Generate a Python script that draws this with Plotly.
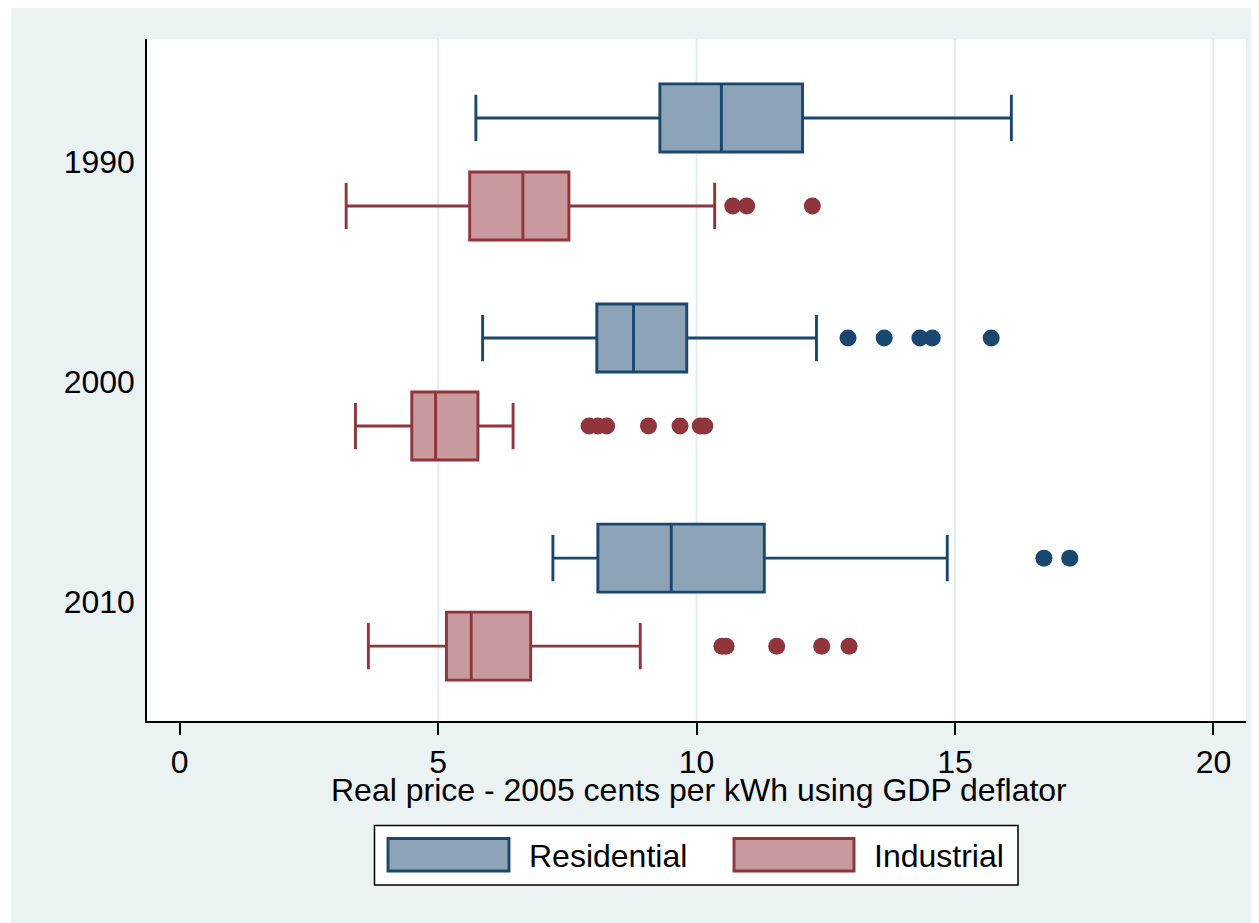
import plotly.graph_objects as go

# ---------------- data ----------------
years = ["1990", "2000", "2010"]
series_names = ["Residential", "Industrial"]

res_low = [5.73, 5.86, 7.22]
res_q1 = [9.29, 8.07, 8.09]
res_med = [10.48, 8.78, 9.51]
res_q3 = [12.05, 9.81, 11.31]
res_high = [16.09, 12.32, 14.85]
res_outliers = [[], [12.93, 13.63, 14.32, 14.56, 15.70], [16.72, 17.22]]

ind_low = [3.22, 3.40, 3.65]
ind_q1 = [5.61, 4.49, 5.16]
ind_med = [6.64, 4.95, 5.64]
ind_q3 = [7.53, 5.77, 6.79]
ind_high = [10.35, 6.45, 8.91]
ind_outliers = [[10.70, 10.97, 12.24],
                [7.92, 8.09, 8.26, 9.07, 9.68, 10.07, 10.16],
                [10.49, 10.57, 11.55, 12.42, 12.95]]

x_ticks = [0, 5, 10, 15, 20]
x_title = "Real price - 2005 cents per kWh using GDP deflator"

# ---------------- style ----------------
BG = "#EAF2F3"
RES_LINE = "#1A476F"
RES_FILL = "#8DA4B8"
IND_LINE = "#90353B"
IND_FILL = "#C89A9D"
FONT = "Liberation Sans, Arial, sans-serif"
FS = 32

OFF = 8  # page body margin of the html page
W, H = 1259 - OFF, 923 - OFF
# plot area in page pixels: x 147..1246, y 39..721
PL, PR, PT, PB = 147, 1246, 39, 721
L, R, T, B = PL - OFF, W - (PR - OFF), PT - OFF, H - (PB - OFF)
PW, PH = PR - PL, PB - PT


def px_x(p):
    return (p - PL) / PW


def px_y(p):
    return (PB - p) / PH


fig = go.Figure()

series = [
    (series_names[0], res_low, res_q1, res_med, res_q3, res_high, res_outliers, RES_LINE, RES_FILL, -0.2),
    (series_names[1], ind_low, ind_q1, ind_med, ind_q3, ind_high, ind_outliers, IND_LINE, IND_FILL, 0.2),
]

for name, lo, q1, med, q3, hi, outs, lc, fc, off in series:
    pos = [i + off for i in range(len(years))]
    fig.add_trace(go.Box(
        name=name, orientation="h", y=pos,
        lowerfence=lo, q1=q1, median=med, q3=q3, upperfence=hi,
        width=0.309, whiskerwidth=0.68,
        line=dict(color=lc, width=2.9), fillcolor=fc,
        boxpoints=False, showlegend=False, hoverinfo="skip",
    ))
    ox, oy = [], []
    for i, vals in enumerate(outs):
        for v in vals:
            ox.append(v)
            oy.append(i + off)
    fig.add_trace(go.Scatter(
        x=ox, y=oy, mode="markers",
        marker=dict(color=lc, size=17, line=dict(width=0)),
        showlegend=False, hoverinfo="skip",
    ))

shapes = []
# vertical grid lines (none at 0, as in the original)
for v in x_ticks:
    if v == 0:
        continue
    shapes.append(dict(type="line", xref="x", yref="paper", x0=v, x1=v, y0=0, y1=1,
                       line=dict(color="#E3ECEF", width=2), layer="below"))

# white strip at the left of the image
shapes.append(dict(type="rect", xref="paper", yref="paper", x0=px_x(0), x1=px_x(11),
                   y0=px_y(940), y1=px_y(0), fillcolor="white", line=dict(width=0), layer="above"))

# manual legend
shapes.append(dict(type="rect", xref="paper", yref="paper", x0=px_x(374.5), x1=px_x(1018),
                   y0=px_y(885), y1=px_y(825.5), fillcolor="white",
                   line=dict(color="black", width=1.5), layer="above"))
shapes.append(dict(type="rect", xref="paper", yref="paper", x0=px_x(388), x1=px_x(509),
                   y0=px_y(871), y1=px_y(838.5), fillcolor=RES_FILL,
                   line=dict(color=RES_LINE, width=2.9), layer="above"))
shapes.append(dict(type="rect", xref="paper", yref="paper", x0=px_x(734), x1=px_x(854),
                   y0=px_y(871), y1=px_y(838.5), fillcolor=IND_FILL,
                   line=dict(color=IND_LINE, width=2.9), layer="above"))

annotations = [
    dict(text=series_names[0], xref="paper", yref="paper", x=px_x(527), y=px_y(856),
         xanchor="left", yanchor="middle", showarrow=False, font=dict(size=FS, color="black", family=FONT)),
    dict(text=series_names[1], xref="paper", yref="paper", x=px_x(872), y=px_y(856),
         xanchor="left", yanchor="middle", showarrow=False, font=dict(size=FS, color="black", family=FONT)),
    dict(text=x_title, xref="paper", yref="paper", x=px_x(698.5), y=px_y(790),
         xanchor="center", yanchor="middle", showarrow=False, font=dict(size=FS, color="black", family=FONT)),
]

x0 = -0.633
x1 = 20.63
fig.update_layout(
    width=W, height=H,
    margin=dict(l=L, r=R, t=T, b=B, pad=0),
    paper_bgcolor=BG, plot_bgcolor="white",
    font=dict(family=FONT, size=FS, color="black"),
    showlegend=False,
    shapes=shapes, annotations=annotations,
    xaxis=dict(range=[x0, x1], tickvals=x_ticks, ticktext=[str(v) for v in x_ticks],
               showgrid=False, zeroline=False, showline=True, linecolor="black", linewidth=1.5,
               ticks="outside", ticklen=12, tickwidth=1.5, tickcolor="black",
               tickfont=dict(size=FS, family=FONT, color="black")),
    yaxis=dict(range=[2.54, -0.5586], tickvals=[0, 1, 2], ticktext=years,
               showgrid=False, zeroline=False, showline=True, linecolor="black", linewidth=1.5,
               ticks="", tickfont=dict(size=FS, family=FONT, color="black"),
               ticklabelstandoff=4),
)

fig.write_html("out.html")
